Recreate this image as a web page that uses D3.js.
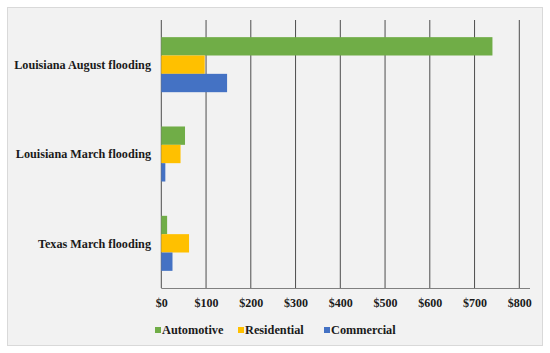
<!DOCTYPE html>
<html>
<head>
<meta charset="utf-8">
<script src="https://cdn.jsdelivr.net/npm/d3@7"></script>
<style>
  body { margin: 0; background: #fff; }
  text { font-family: "Liberation Serif", "Times New Roman", serif; font-weight: bold; fill: #1a1a1a; }
</style>
</head>
<body>
<script>
// chart data
const categories = ['Louisiana August flooding', 'Louisiana March flooding', 'Texas March flooding'];
const seriesNames = ['Automotive', 'Residential', 'Commercial'];
const automotive = [740, 53, 13];
const residential = [97, 43, 62];
const commercial = [147, 9, 25];
const tickValues = [0, 100, 200, 300, 400, 500, 600, 700, 800];
const colors = ['#70ad47', '#ffc000', '#4472c4'];

const w = 550;
const h = 353;
const svg = d3.select('body')
              .append('svg')
              .attr('width', w)
              .attr('height', h);

// panel background
svg.append('rect')
   .attr('x', 7.5)
   .attr('y', 7.5)
   .attr('width', 535)
   .attr('height', 338)
   .attr('fill', '#f2f2f2')
   .attr('stroke', '#d9d9d9');

const plotLeft = 161.3, plotRight = 519.3, plotTop = 20, plotBottom = 288;

const xScale = d3.scaleLinear()
                 .domain([0, 800])
                 .range([plotLeft, plotRight]);
const yScale = d3.scaleBand()
                 .domain(categories)
                 .range([plotTop, plotBottom])
                 .paddingInner(0.384)
                 .paddingOuter(0.192);
const ySub = d3.scaleBand()
               .domain(seriesNames)
               .range([0, yScale.bandwidth()]);

//gridlines
svg.append('g')
   .selectAll('line')
   .data(tickValues)
   .enter()
   .append('line')
   .attr('x1', d => xScale(d))
   .attr('x2', d => xScale(d))
   .attr('y1', plotTop)
   .attr('y2', plotBottom)
   .attr('stroke', '#4d4d4d')
   .attr('stroke-width', 1);

const rows = categories.map((c, i) => ({cat: c, vals: [automotive[i], residential[i], commercial[i]]}));

const groups = svg.selectAll('g.cat')
                  .data(rows)
                  .enter()
                  .append('g')
                  .attr('class', 'cat')
                  .attr('transform', d => 'translate(0,' + yScale(d.cat) + ')');

groups.selectAll('rect')
      .data(d => d.vals.map((v, j) => ({name: seriesNames[j], v: v, j: j})))
      .enter()
      .append('rect')
      .attr('x', xScale(0))
      .attr('y', d => ySub(d.name))
      .attr('width', d => xScale(d.v) - xScale(0))
      .attr('height', ySub.bandwidth())
      .attr('fill', d => colors[d.j]);

// x axis
const xAxis = d3.axisBottom(xScale)
                .tickValues(tickValues)
                .tickSize(0)
                .tickPadding(10)
                .tickFormat(d => '$' + d);
const gx = svg.append('g')
              .attr('transform', 'translate(0,' + plotBottom + ')')
              .call(xAxis);
gx.select('.domain').remove();
gx.selectAll('text')
  .attr('font-size', 12)
  .attr('font-family', '"Liberation Serif", serif')
  .attr('font-weight', 'bold')
  .attr('fill', '#1a1a1a');
svg.append('line')
   .attr('x1', plotLeft)
   .attr('x2', 530)
   .attr('y1', plotBottom + 0.5)
   .attr('y2', plotBottom + 0.5)
   .attr('stroke', '#808080')
   .attr('stroke-width', 1.2);

// y axis labels
svg.append('g')
   .selectAll('text')
   .data(categories)
   .enter()
   .append('text')
   .attr('x', 151)
   .attr('y', d => yScale(d) + yScale.bandwidth() / 2)
   .attr('dy', '0.35em')
   .attr('text-anchor', 'end')
   .attr('font-size', 12.2)
   .text(d => d);

// legend
const legendX = [155, 238, 324];
const legend = svg.append('g')
                  .selectAll('g')
                  .data(seriesNames)
                  .enter()
                  .append('g')
                  .attr('transform', (d, i) => 'translate(' + legendX[i] + ',330)');
legend.append('rect')
      .attr('x', 0)
      .attr('y', -3)
      .attr('width', 6)
      .attr('height', 6)
      .attr('fill', (d, i) => colors[i]);
legend.append('text')
      .attr('x', 7)
      .attr('y', 0)
      .attr('dy', '0.35em')
      .attr('font-size', 12.3)
      .text(d => d);
</script>
</body>
</html>
